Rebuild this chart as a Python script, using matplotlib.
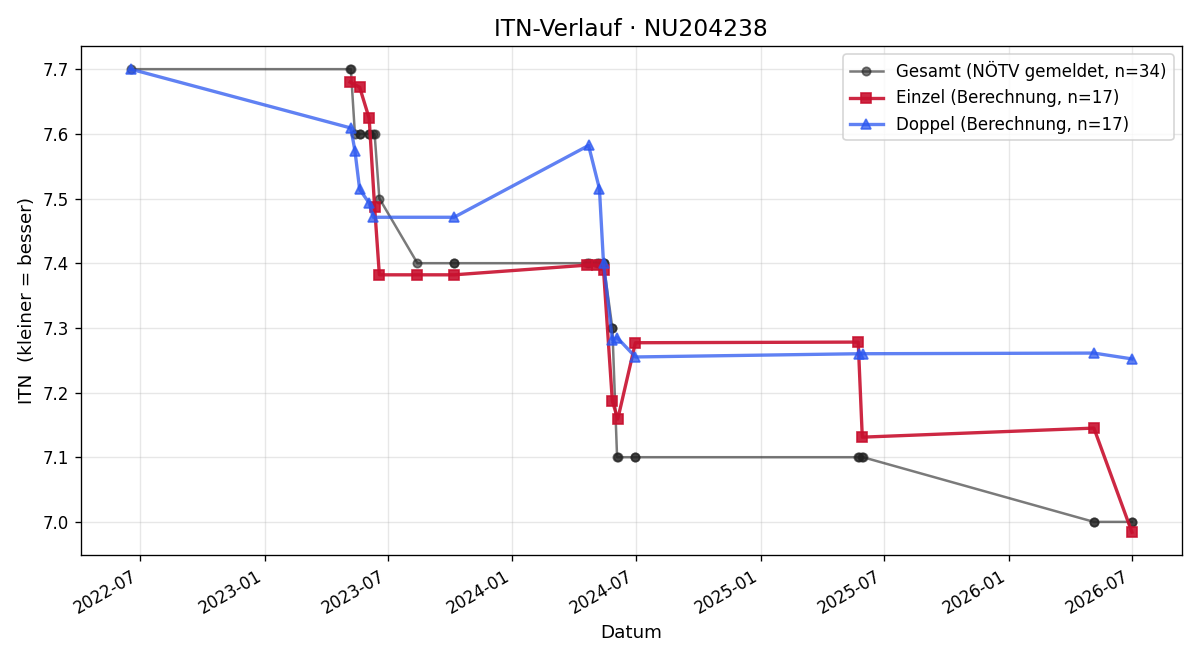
import pandas as pd
import matplotlib
matplotlib.use("Agg")
import matplotlib.pyplot as plt
import matplotlib.dates as mdates

# Einzel (Berechnung)
einzel_dates = ["2023-05-07", "2023-05-21", "2023-06-04", "2023-06-12", "2023-06-19",
                "2023-08-14", "2023-10-07", "2024-04-20", "2024-05-05", "2024-05-14",
                "2024-05-27", "2024-06-04", "2024-06-30", "2025-05-24", "2025-05-30",
                "2026-05-06", "2026-07-01"]
einzel_itn = [7.680, 7.672, 7.624, 7.487, 7.382,
              7.382, 7.382, 7.397, 7.397, 7.390,
              7.187, 7.159, 7.277, 7.278, 7.131,
              7.145, 6.984]

# Doppel (Berechnung)
doppel_dates = ["2022-06-18", "2023-05-08", "2023-05-14", "2023-05-21", "2023-06-04",
                "2023-06-10", "2023-10-07", "2024-04-22", "2024-05-08", "2024-05-14",
                "2024-05-27", "2024-06-03", "2024-06-30", "2025-05-25", "2025-05-31",
                "2026-05-06", "2026-07-01"]
doppel_itn = [7.700, 7.609, 7.574, 7.514, 7.493,
              7.471, 7.471, 7.582, 7.515, 7.400,
              7.282, 7.285, 7.255, 7.260, 7.260,
              7.261, 7.252]

# Gesamt (NÖTV gemeldet)
gesamt_dates = ["2022-06-18", "2023-05-07", "2023-05-08", "2023-05-14", "2023-05-21",
                "2023-05-21", "2023-06-04", "2023-06-04", "2023-06-10", "2023-06-12",
                "2023-06-19", "2023-08-14", "2023-10-07", "2023-10-07", "2024-04-20",
                "2024-04-22", "2024-05-05", "2024-05-08", "2024-05-14", "2024-05-14",
                "2024-05-27", "2024-05-27", "2024-06-03", "2024-06-04", "2024-06-30",
                "2024-06-30", "2025-05-24", "2025-05-25", "2025-05-30", "2025-05-31",
                "2026-05-06", "2026-05-06", "2026-07-01", "2026-07-01"]
gesamt_itn = [7.7, 7.7, 7.7, 7.6, 7.6,
              7.6, 7.6, 7.6, 7.6, 7.6,
              7.5, 7.4, 7.4, 7.4, 7.4,
              7.4, 7.4, 7.4, 7.4, 7.4,
              7.3, 7.3, 7.1, 7.1, 7.1,
              7.1, 7.1, 7.1, 7.1, 7.1,
              7.0, 7.0, 7.0, 7.0]

fig, ax = plt.subplots(figsize=(10, 5.5), dpi=120)

ax.plot(pd.to_datetime(gesamt_dates), gesamt_itn, marker="o", color="#222222", alpha=0.6,
        linewidth=1.5, markersize=5, label=f"Gesamt (NÖTV gemeldet, n={len(gesamt_itn)})")
ax.plot(pd.to_datetime(einzel_dates), einzel_itn, marker="s", color="#c8102e", alpha=0.9,
        linewidth=2, markersize=6, label=f"Einzel (Berechnung, n={len(einzel_itn)})")
ax.plot(pd.to_datetime(doppel_dates), doppel_itn, marker="^", color="#2b57f0", alpha=0.75,
        linewidth=2, markersize=6, label=f"Doppel (Berechnung, n={len(doppel_itn)})")

ax.set_title("ITN-Verlauf · NU204238", fontsize=14)
ax.set_xlabel("Datum", fontsize=11)
ax.set_ylabel("ITN  (kleiner = besser)", fontsize=11)
ax.xaxis.set_major_locator(mdates.MonthLocator(bymonth=[1, 7]))
ax.xaxis.set_major_formatter(mdates.DateFormatter("%Y-%m"))
ax.grid(True, alpha=0.3)
ax.legend(loc="upper right", fontsize=10)
fig.autofmt_xdate()
plt.tight_layout()
plt.savefig("out.png")
